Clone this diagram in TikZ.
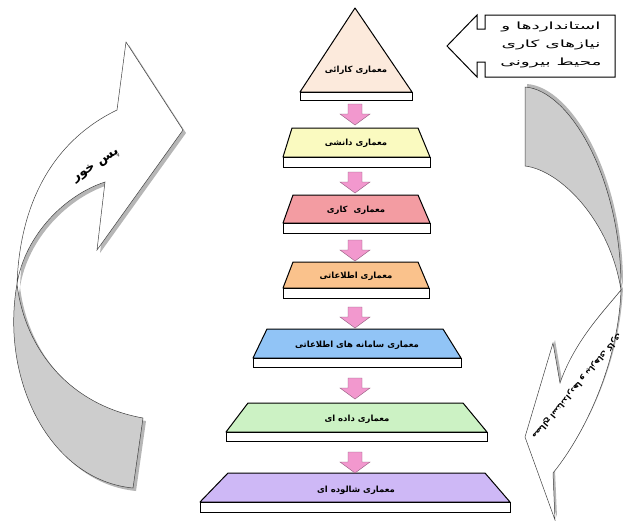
\documentclass[tikz,border=0pt]{standalone}
\usepackage{fontspec}
\newfontfamily\fa[Script=Arabic]{DejaVu Sans}
\TeXXeTstate=1
\definecolor{cTri}{RGB}{252,234,220}
\definecolor{cYel}{RGB}{250,250,192}
\definecolor{cRed}{RGB}{243,156,162}
\definecolor{cOra}{RGB}{250,194,140}
\definecolor{cBlu}{RGB}{145,196,246}
\definecolor{cGre}{RGB}{204,242,196}
\definecolor{cPur}{RGB}{206,184,246}
\definecolor{cPink}{RGB}{242,152,206}
\definecolor{cRib}{RGB}{205,205,205}
\definecolor{cShad}{RGB}{182,182,182}
\begin{document}
\begin{tikzpicture}[x=1pt,y=-1pt,
  lbl/.style={font=\fa\bfseries\fontsize{8.5}{10}\selectfont,inner sep=0pt},
  extline/.style={font=\fa\fontsize{10}{12}\selectfont,inner sep=0pt},
  face/.style={draw=black,line width=1pt,line join=round},
  strip/.style={draw=black,fill=white,line width=1pt},
  pinkarrow/.pic={\draw[fill=cPink,draw=cPink!60!black,line width=0.4pt]
     (-7,0) -- (7,0) -- (7,10) -- (15,10) -- (0,21) -- (-15,10) -- (-7,10) -- cycle;},
  ribbon/.style={draw=black!75,line width=0.5pt},
  shade/.style={fill=cShad}]
\useasboundingbox (0,0) rectangle (623,520);

% ---------- left ribbon (feedback) ----------
\begin{scope}[shift={(3,3)}]
  \fill[shade] (17,284) .. controls (0,380) and (50,480) .. (133,488) -- (143,418)
     .. controls (70,405) and (25,350) .. (17,284) -- cycle;
  \fill[shade] (17,284) .. controls (20,200) and (55,140) .. (117,110) -- (126,42) -- (183,130)
     -- (97,250) -- (105,182) .. controls (65,195) and (25,235) .. (17,284) -- cycle;
\end{scope}
\draw[ribbon,fill=cRib] (17,284) .. controls (0,380) and (50,480) .. (133,488) -- (143,418)
   .. controls (70,405) and (25,350) .. (17,284) -- cycle;
\draw[ribbon,fill=white] (17,284) .. controls (20,200) and (55,140) .. (117,110) -- (126,42) -- (183,130)
   -- (97,250) -- (105,182) .. controls (65,195) and (25,235) .. (17,284) -- cycle;
\node[font=\fa\bfseries\fontsize{13}{15}\selectfont,rotate=33,inner sep=0pt] (fb) at (96,166)
   {\hbox{\beginR پس خور\endR}};

% ---------- right ribbon ----------
\begin{scope}[shift={(2,-3)}]
  \fill[shade] (525,87) .. controls (570,90) and (622,180) .. (621,290)
     .. controls (610,220) and (560,170) .. (525,166) -- cycle;
  \fill[shade] (621,290) .. controls (618,370) and (580,440) .. (553,473) -- (555,520) -- (525,437)
     -- (553,343) -- (560,383) .. controls (575,340) and (605,310) .. (621,290) -- cycle;
\end{scope}
\draw[ribbon,fill=cRib] (525,87) .. controls (570,90) and (622,180) .. (621,290)
   .. controls (610,220) and (560,170) .. (525,166) -- cycle;
\draw[ribbon,fill=white] (621,290) .. controls (618,370) and (580,440) .. (553,473) -- (555,520) -- (525,437)
   -- (553,343) -- (560,383) .. controls (575,340) and (605,310) .. (621,290) -- cycle;
\node[font=\fa\bfseries\fontsize{8}{9}\selectfont,rotate=230,inner sep=0pt] (req) at (577,386)
   {\hbox{\beginR مصالح استانداردها و نیازهای کاری\endR}};

% ---------- top-right callout arrow ----------
\draw[line width=1pt,fill=white,line join=miter] (447,46) -- (477,15) -- (477,29) -- (485,29) -- (485,15)
   -- (615,15) -- (615,77) -- (485,77) -- (485,62) -- (477,62) -- (477,77) -- cycle;
\node[extline] (ext1) at (551,27) {\scalebox{1.85}[1]{\hbox{\beginR استانداردها و\endR}}};
\node[extline] (ext2) at (551,45) {\scalebox{1.85}[1]{\hbox{\beginR نیازهای کاری\endR}}};
\node[extline] (ext3) at (551,63) {\scalebox{1.85}[1]{\hbox{\beginR محیط بیرونی\endR}}};

% ---------- pyramid ----------
\draw[face,fill=cTri] (355,8) -- (412,92) -- (300,92) -- cycle;
\draw[strip] (300,92) rectangle (412,100);
\node[lbl] (l1) at (356,70) {\hbox{\beginR معماری کارائی\endR}};

\draw[face,fill=cYel] (292,128) -- (418,128) -- (430,157) -- (283,157) -- cycle;
\draw[strip] (283,157) rectangle (430,167);
\node[lbl] (l2) at (356,143) {\hbox{\beginR معماری دانشی\endR}};

\draw[face,fill=cRed] (293,195) -- (418,195) -- (430,223) -- (283,223) -- cycle;
\draw[strip] (283,223) rectangle (430,233);
\node[lbl] (l3) at (356,210) {\hbox{\beginR معماری\ \ کاری\endR}};

\draw[face,fill=cOra] (293,262) -- (418,262) -- (429,288) -- (283,288) -- cycle;
\draw[strip] (283,288) rectangle (429,298);
\node[lbl] (l4) at (356,276) {\hbox{\beginR معماری اطلاعاتی\endR}};

\draw[face,fill=cBlu] (267,329) -- (443,329) -- (461,358) -- (253,358) -- cycle;
\draw[strip] (253,358) rectangle (461,367);
\node[lbl] (l5) at (357,345) {\hbox{\beginR معماری سامانه های اطلاعاتی\endR}};

\draw[face,fill=cGre] (248,403) -- (463,403) -- (487,432) -- (226,432) -- cycle;
\draw[strip] (226,432) rectangle (487,441);
\node[lbl] (l6) at (357,419) {\hbox{\beginR معماری داده ای\endR}};

\draw[face,fill=cPur] (228,473) -- (485,473) -- (510,502) -- (200,502) -- cycle;
\draw[strip] (200,502) rectangle (510,512);
\node[lbl] (l7) at (356,490) {\hbox{\beginR معماری شالوده ای\endR}};

% ---------- pink arrows ----------
\pic at (355,104) {pinkarrow};
\pic at (355,172) {pinkarrow};
\pic at (355,240) {pinkarrow};
\pic at (355,307) {pinkarrow};
\pic at (355,378) {pinkarrow};
\pic at (355,452) {pinkarrow};
\end{tikzpicture}
\end{document}
